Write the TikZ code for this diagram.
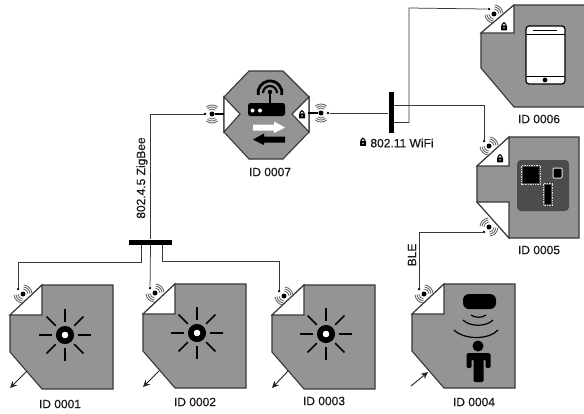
\documentclass[tikz,border=0pt]{standalone}
\usepackage{fontspec}
\newfontfamily\lblfont[FakeBold=0.5]{Liberation Sans}
\usetikzlibrary{arrows.meta,positioning}
\colorlet{gy}{black!42}
\colorlet{ed}{black!78}
\colorlet{wv}{black!62}
\tikzset{lbl/.style={inner sep=0pt, font=\lblfont\fontsize{12}{12}\selectfont, text=black!90},
         body/.style={fill=gy, draw=ed, line width=1.1pt, line join=miter},
         flap/.style={fill=white, draw=ed, line width=1.1pt},
         wire/.style={draw=black!78, line width=0.75pt},
         bigdot/.style={circle, fill=black, inner sep=0pt, minimum size=5pt},
         smalldot/.style={circle, fill=black, inner sep=0pt, minimum size=2.6pt},
         busbar/.style={rectangle, fill=black, inner sep=0pt},
         ray/.style={line width=1.6pt, black},
         ptr/.style={-{Stealth[length=7pt,width=6.5pt]}, line width=0.9pt, black!85}}
% antenna: name, x, y, rotation
\newcommand{\antnode}[4]{
 \begin{scope}[shift={(#2,#3)}, rotate=#4]
  \node[bigdot] (#1c) at (0,0) {};
  \node[smalldot] (#1) at (-7,0) {};
  \foreach \rr in {5,7,9} {
    \draw[wv, line width=0.85pt] (0,0) ++(50:\rr pt) arc [start angle=50, end angle=130, radius=\rr pt];
    \draw[wv, line width=0.85pt] (0,0) ++(230:\rr pt) arc [start angle=230, end angle=310, radius=\rr pt];
  }
 \end{scope}
}
\newcommand{\lockicon}[2]{
 \begin{scope}[shift={(#1,#2)}]
  \fill[black, rounded corners=0.5pt] (-3,-0.6) rectangle (3,4.4);
  \draw[black, line width=1.1pt] (-1.8,-0.6) -- (-1.8,-1.6) arc [start angle=180, end angle=0, radius=1.8pt] -- (1.8,-0.6);
  \fill[white] (0,1.9) circle (0.8pt);
 \end{scope}
}
% sensor body with folded corner, top left at x, y
\newcommand{\sensorbody}[2]{
 \begin{scope}[shift={(#1,#2)}]
  \draw[body] (32,0) -- (103,0) -- (103,104) -- (32,104) -- (0,67) -- (0,30) -- cycle;
  \draw[flap] (0,30) -- (32,0) -- (32,30) -- cycle;
 \end{scope}
}
\newcommand{\sunicon}[2]{
 \begin{scope}[shift={(#1,#2)}]
  \foreach \aa in {0,45,...,315} {
    \draw[ray] (\aa:13pt) -- (\aa:26pt);
  }
  \draw[black, line width=5.6pt, fill=white] (0,0) circle (6.2pt);
 \end{scope}
}

\begin{document}
\begin{tikzpicture}[x=1pt, y=-1pt]
\useasboundingbox (0,0) rectangle (584,413);
\clip (0,0) rectangle (584,413);
\fill[white] (0,0) rectangle (584,413);

% light sensors
\foreach \px/\py/\sx/\sy in {10/285/65/335, 143/284/197/333, 272/285/326/334} {
  \sensorbody{\px}{\py}
  \sunicon{\sx}{\sy}
}
\sensorbody{412}{284}

% hub
\draw[body] (249,71) -- (283,71) -- (309,97) -- (309,132) -- (283,159) -- (249,159) -- (224,132) -- (224,97) -- cycle;
\draw[flap] (224,97) -- (240,114) -- (224,132) -- cycle;
\draw[flap] (309,97) -- (292,114) -- (309,132) -- cycle;
\fill[black, rounded corners=2.5pt] (248,103) rectangle (285,116);
\fill[white] (252.500,110.500) circle (2pt) (260,110.500) circle (2pt);
\draw[black, line width=1.5pt] (270,103) -- (270,92);
\fill[black] (270,92) circle (2.2pt);
\draw[black, line width=2.2pt] (263,93) arc [start angle=180, end angle=0, radius=7pt];
\draw[black, line width=2.8pt] (258.200,95) arc [start angle=190, end angle=-10, radius=12pt];
\fill[white] (253,124.500) -- (274,124.500) -- (274,121.500) -- (285,127.500) -- (274,133) -- (274,130.500) -- (253,130.500) -- cycle;
\fill[black] (285,136.500) -- (264,136.500) -- (264,133.500) -- (253,139.500) -- (264,145) -- (264,142.500) -- (285,142.500) -- cycle;

% phone
\draw[body] (514,5) -- (590,5) -- (590,107) -- (514,107) -- (481,68) -- (481,33) -- cycle;
\draw[flap] (481,33) -- (514,5) -- (514,33) -- cycle;
\draw[black, line width=1.2pt, fill=white, rounded corners=3pt] (526,26) rectangle (565,84);
\draw[black, line width=1pt] (526,34) -- (565,34) (526,76) -- (565,76);
\draw[black, line width=0.9pt] (533,30) -- (557,30);
\fill[black] (545,80) circle (2.4pt);

% board
\draw[body] (509,137) -- (579,137) -- (579,238) -- (509,238) -- (477,202) -- (477,166) -- cycle;
\draw[flap] (477,166) -- (509,137) -- (509,166) -- cycle;
\draw[flap] (477,202) -- (509,202) -- (509,238) -- cycle;
\fill[black!70, rounded corners=4pt] (517,160) rectangle (569,211);
\fill[black] (523,167) rectangle (539,183);
\draw[black!15, densely dotted, line width=0.7pt] (521.500,165.500) rectangle (540.500,184.500);
\draw[black!10, fill=black, line width=1pt, rounded corners=1pt] (553,168) rectangle (562,178);
\fill[black] (545,185) rectangle (551,204);
\draw[black!15, densely dotted, line width=0.7pt] (543.500,183.500) rectangle (552.500,205.500);

% presence sensor
\fill[black, rounded corners=6pt] (463,294) rectangle (496,309);
\draw[black, line width=1.2pt] (471,315) .. controls (475,318) and (482,318) .. (486,315);
\draw[black, line width=1.2pt] (463,320) .. controls (470,327) and (486,327) .. (493,320);
\draw[black, line width=1.2pt] (454,330) .. controls (464,340) and (489,340) .. (498,330);
\fill[black] (478,346) circle (5.5pt);
\fill[black, rounded corners=1.5pt] (466.500,368) -- (466.500,353) -- (490.500,353) -- (490.500,368) -- (485.500,368) -- (485.500,359) -- (483.500,359) -- (483.500,382) -- (473.500,382) -- (473.500,359) -- (471.500,359) -- (471.500,368) -- cycle;

% pointers
\draw[ptr] (27,371) -- (10,388);
\draw[ptr] (159,371) -- (143,387);
\draw[ptr] (288,371) -- (272,388);
\draw[ptr] (411,386) -- (428,372);

% bars
\node[busbar, minimum width=43pt, minimum height=5pt] (zbar) at (150.500,242) {};
\node[busbar, minimum width=5pt, minimum height=41pt] (wbar) at (391,112.500) {};

% antennas
\antnode{anta}{23}{294}{-45}
\antnode{antb}{155}{293}{-45}
\antnode{antc}{284}{296}{-45}
\antnode{antd}{424}{294}{-45}
\antnode{ante}{489}{146}{-45}
\antnode{antf}{489}{227}{45}
\antnode{antg}{494}{14}{-45}
\antnode{anth}{212}{114}{0}
\antnode{anti}{321}{113}{180}

% stubs on hub
\draw[black, line width=1.2pt] (anthc) -- (224,114);
\draw[black, line width=1.2pt] (antic) -- (308,113);
\lockicon{302}{114}
\lockicon{500}{158}
\lockicon{504}{26}
\lockicon{363}{141.500}

% wires
\draw[wire] (anth) -| (zbar.north);
\draw[wire] (zbar.south) -- (antb);
\draw[wire] ([xshift=-9pt]zbar.south) -- ++(0,18) -| (anta);
\draw[wire] ([xshift=12pt]zbar.south) -- ++(0,17) -| (antc);
\draw[wire] (anti) -- (wbar.west |- anti);
\draw[wire] ([yshift=-10pt]wbar.east) -| (409,8) -- (antg);
\draw[wire] ([yshift=7pt]wbar.east) -| (ante);
\draw[wire] (antf) -| (antd);

% labels
\node[lbl] (id1) at (60,404) {ID 0001};
\node[lbl] (id2) at (195,402) {ID 0002};
\node[lbl] (id3) at (324,401) {ID 0003};
\node[lbl] (id4) at (474,402) {ID 0004};
\node[lbl] (id5) at (539,250) {ID 0005};
\node[lbl] (id6) at (539,119) {ID 0006};
\node[lbl] (id7) at (270,172) {ID 0007};
\node[lbl] (wifi) at (402,143) {802.11 WiFi};
\node[lbl, rotate=90] (zig) at (142,178) {802.4.5 ZigBee};
\node[lbl, rotate=90] (ble) at (412,255) {BLE};
\end{tikzpicture}
\end{document}
